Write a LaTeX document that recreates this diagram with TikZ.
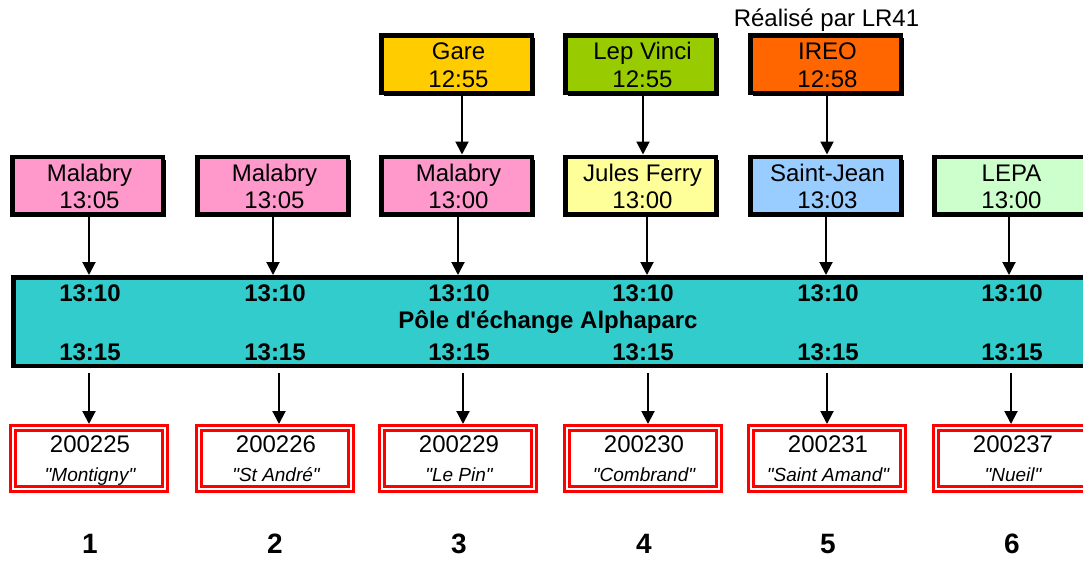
\documentclass[tikz,border=0pt]{standalone}
\usepackage{fontspec}
\setmainfont{Liberation Sans}[Ligatures=TeXOff]
\usetikzlibrary{arrows.meta,shadows}
\definecolor{pinkbox}{HTML}{FF99CC}
\definecolor{garebox}{HTML}{FFCC00}
\definecolor{vincibox}{HTML}{99CC00}
\definecolor{ireobox}{HTML}{FF6600}
\definecolor{julesbox}{HTML}{FFFF99}
\definecolor{jeanbox}{HTML}{99CCFF}
\definecolor{lepabox}{HTML}{CCFFCC}
\definecolor{tealbar}{HTML}{33CCCC}
\definecolor{resred}{HTML}{FF0000}
\tikzset{
  stopbox/.style={draw=black, line width=4.5pt, minimum width=150.5pt, minimum height=57.5pt,
    inner sep=0pt, drop shadow={shadow xshift=3pt, shadow yshift=-3pt, fill=black, opacity=1}},
  barbox/.style={draw=black, line width=4.5pt, fill=tealbar, minimum width=1079.5pt,
    minimum height=88.5pt, inner sep=0pt},
  resbox/.style={draw=resred, line width=3pt, double=white, double distance=2pt, fill=white,
    minimum width=152pt, minimum height=61pt, inner sep=0pt, outer sep=4pt},
  txt/.style={inner sep=0pt, anchor=base, font=\fontsize{24}{28}\selectfont},
  btxt/.style={inner sep=0pt, anchor=base, font=\fontsize{24}{28}\selectfont\bfseries},
  itxt/.style={inner sep=0pt, anchor=base, font=\fontsize{19}{23}\selectfont\itshape},
  numtxt/.style={inner sep=0pt, anchor=base, font=\fontsize{28}{32}\selectfont\bfseries},
  arr/.style={line width=2pt, -{Triangle[width=13pt,length=13pt]}}
}
\begin{document}
\begin{tikzpicture}[x=1pt,y=-1pt]
\useasboundingbox (0,0) rectangle (1083,560);
\clip (0,0) rectangle (1083,560);

% top row
\node[stopbox, fill=garebox]  (t3) at (456.5,64) {};
\node[stopbox, fill=vincibox] (t4) at (640.5,64) {};
\node[stopbox, fill=ireobox]  (t5) at (825.5,64) {};
\node[txt] (t3a) at (458.5,59) {Gare};
\node[txt] (t3b) at (458.5,87) {12:55};
\node[txt] (t4a) at (642.5,59) {Lep Vinci};
\node[txt] (t4b) at (642.5,87) {12:55};
\node[txt] (t5a) at (827.5,59) {IREO};
\node[txt] (t5b) at (827.5,87) {12:58};
\node[txt] (lr41) at (826.5,26) {Réalisé par LR41};

% middle row
\node[stopbox, fill=pinkbox]  (m1) at (87.5,185.5) {};
\node[stopbox, fill=pinkbox]  (m2) at (272.5,185.5) {};
\node[stopbox, fill=pinkbox]  (m3) at (456.5,185.5) {};
\node[stopbox, fill=julesbox] (m4) at (640.5,185.5) {};
\node[stopbox, fill=jeanbox]  (m5) at (825.5,185.5) {};
\node[stopbox, fill=lepabox]  (m6) at (1009.5,185.5) {};
\node[txt] (m1a) at (89.5,181) {Malabry};
\node[txt] (m1b) at (89.5,208) {13:05};
\node[txt] (m2a) at (274.5,181) {Malabry};
\node[txt] (m2b) at (274.5,208) {13:05};
\node[txt] (m3a) at (458.5,181) {Malabry};
\node[txt] (m3b) at (458.5,208) {13:00};
\node[txt] (m4a) at (642.5,181) {Jules Ferry};
\node[txt] (m4b) at (642.5,208) {13:00};
\node[txt] (m5a) at (827.5,181) {Saint-Jean};
\node[txt] (m5b) at (827.5,208) {13:03};
\node[txt] (m6a) at (1011.5,181) {LEPA};
\node[txt] (m6b) at (1011.5,208) {13:00};

% bar
\node[barbox] (bar) at (553,321.5) {};
\node[btxt] (a1) at (90,301) {13:10};
\node[btxt] (a2) at (275,301) {13:10};
\node[btxt] (a3) at (459,301) {13:10};
\node[btxt] (a4) at (643,301) {13:10};
\node[btxt] (a5) at (828,301) {13:10};
\node[btxt] (a6) at (1012,301) {13:10};
\node[btxt] (pole) at (548,328) {Pôle d'échange Alphaparc};
\node[btxt] (d1) at (90,360) {13:15};
\node[btxt] (d2) at (275,360) {13:15};
\node[btxt] (d3) at (459,360) {13:15};
\node[btxt] (d4) at (643,360) {13:15};
\node[btxt] (d5) at (828,360) {13:15};
\node[btxt] (d6) at (1012,360) {13:15};

% result boxes
\node[resbox] (r1) at (89,458.5) {};
\node[resbox] (r2) at (275,458.5) {};
\node[resbox] (r3) at (458,458.5) {};
\node[resbox] (r4) at (643,458.5) {};
\node[resbox] (r5) at (827,458.5) {};
\node[resbox] (r6) at (1012,458.5) {};
\node[txt] (r1a) at (90,452) {200225};
\node[itxt] (r1b) at (90,481) {"Montigny"};
\node[txt] (r2a) at (276,452) {200226};
\node[itxt] (r2b) at (276,481) {"St André"};
\node[txt] (r3a) at (459,452) {200229};
\node[itxt] (r3b) at (459,481) {"Le Pin"};
\node[txt] (r4a) at (644,452) {200230};
\node[itxt] (r4b) at (644,481) {"Combrand"};
\node[txt] (r5a) at (828,452) {200231};
\node[itxt] (r5b) at (828,481) {"Saint Amand"};
\node[txt] (r6a) at (1013,452) {200237};
\node[itxt] (r6b) at (1013,481) {"Nueil"};

% column numbers
\node[numtxt] (n1) at (90,553) {1};
\node[numtxt] (n2) at (275,553) {2};
\node[numtxt] (n3) at (459,553) {3};
\node[numtxt] (n4) at (644,553) {4};
\node[numtxt] (n5) at (828,553) {5};
\node[numtxt] (n6) at (1012,553) {6};

% arrows top -> middle
\draw[arr] ([xshift=5.5pt]t3.south) -- ([xshift=5.5pt]t3.south |- m3.north);
\draw[arr] ([xshift=2.5pt]t4.south) -- ([xshift=2.5pt]t4.south |- m4.north);
\draw[arr] ([xshift=1.5pt]t5.south) -- ([xshift=1.5pt]t5.south |- m5.north);

% arrows middle -> bar
\draw[arr] ([xshift=1.5pt]m1.south) -- ([xshift=1.5pt]m1.south |- bar.north);
\draw[arr] ([xshift=0.5pt]m2.south) -- ([xshift=0.5pt]m2.south |- bar.north);
\draw[arr] ([xshift=1.5pt]m3.south) -- ([xshift=1.5pt]m3.south |- bar.north);
\draw[arr] ([xshift=6.5pt]m4.south) -- ([xshift=6.5pt]m4.south |- bar.north);
\draw[arr] ([xshift=0.5pt]m5.south) -- ([xshift=0.5pt]m5.south |- bar.north);
\draw[arr] ([xshift=-0.5pt]m6.south) -- ([xshift=-0.5pt]m6.south |- bar.north);

% arrows bar -> results
\draw[arr, shorten <=5pt] (r1.north |- bar.south) -- (r1.north);
\draw[arr, shorten <=5pt] ([xshift=4pt]r2.north |- bar.south) -- ([xshift=4pt]r2.north);
\draw[arr, shorten <=5pt] ([xshift=5pt]r3.north |- bar.south) -- ([xshift=5pt]r3.north);
\draw[arr, shorten <=5pt] ([xshift=5pt]r4.north |- bar.south) -- ([xshift=5pt]r4.north);
\draw[arr, shorten <=5pt] (r5.north |- bar.south) -- (r5.north);
\draw[arr, shorten <=5pt] ([xshift=-1pt]r6.north |- bar.south) -- ([xshift=-1pt]r6.north);
\end{tikzpicture}
\end{document}
